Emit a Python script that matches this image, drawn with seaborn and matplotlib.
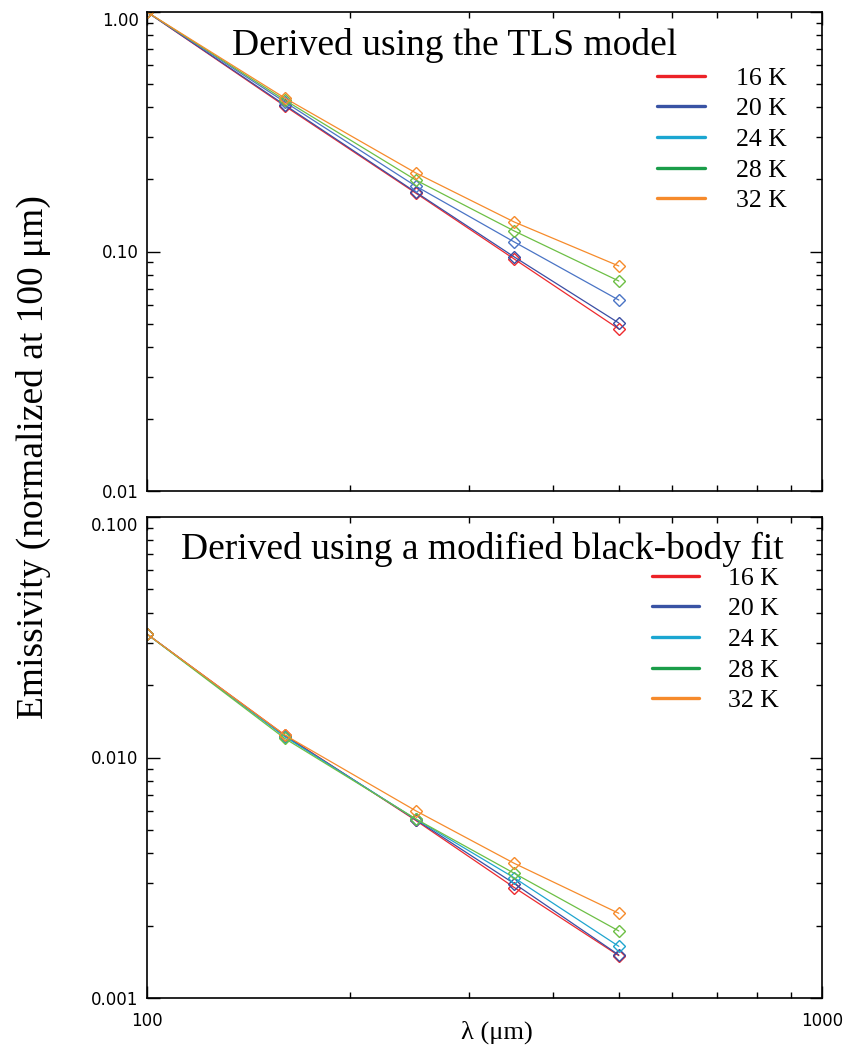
import numpy as np
import pandas as pd
import matplotlib
matplotlib.use("Agg")
import matplotlib.pyplot as plt
from matplotlib.lines import Line2D
from matplotlib.ticker import FixedLocator, FixedFormatter, NullFormatter, LogLocator
import seaborn as sns

# ---------------- data ----------------
wavelengths = [100, 160, 250, 350, 500]
temperatures = ["16 K", "20 K", "24 K", "28 K", "32 K"]

# Top panel: TLS model (normalized at 100 um)
tls_16 = [1.0, 0.405, 0.1755, 0.093, 0.0475]
tls_20 = [1.0, 0.409, 0.177, 0.0949, 0.0503]
tls_24 = [1.0, 0.421, 0.1877, 0.1096, 0.0627]
tls_28 = [1.0, 0.429, 0.199, 0.1218, 0.0753]
tls_32 = [1.0, 0.4375, 0.213, 0.1328, 0.087]

# Bottom panel: modified black-body fit
mbb_16 = [0.0326, 0.0124, 0.00548, 0.00288, 0.00150]
mbb_20 = [0.0326, 0.0123, 0.00552, 0.00299, 0.00151]
mbb_24 = [0.0326, 0.0122, 0.00555, 0.00316, 0.00164]
mbb_28 = [0.0326, 0.0120, 0.00556, 0.00330, 0.00190]
mbb_32 = [0.0326, 0.0124, 0.00601, 0.00363, 0.00225]

top_title = "Derived using the TLS model"
bottom_title = "Derived using a modified black-body fit"
ylabel = "Emissivity (normalized at 100 \u03bcm)"
xlabel = "\u03bb (\u03bcm)"

top_yticks = [0.01, 0.1, 1.0]
top_yticklabels = ["0.01", "0.10", "1.00"]
bot_yticks = [0.001, 0.01, 0.1]
bot_yticklabels = ["0.001", "0.010", "0.100"]
xticks = [100, 1000]
xticklabels = ["100", "1000"]

top_colors = ["#ee2a2e", "#3b4ea3", "#4a74c5", "#6dbf45", "#f68b2b"]
bot_colors = ["#ee2a2e", "#3b4ea3", "#1fa5cf", "#6dbf45", "#f68b2b"]
legend_colors = ["#ec2227", "#3953a4", "#1ba6d1", "#1a9d49", "#f68a2b"]

def make_df(series):
    rows = []
    for t, vals in zip(temperatures, series):
        for w, v in zip(wavelengths, vals):
            rows.append({"wavelength": w, "emissivity": v, "T": t})
    return pd.DataFrame(rows)

df_top = make_df([tls_16, tls_20, tls_24, tls_28, tls_32])
df_bot = make_df([mbb_16, mbb_20, mbb_24, mbb_28, mbb_32])

# ---------------- style ----------------
sns.set_theme(style="ticks")
serif = ["Liberation Serif", "DejaVu Serif"]
plt.rcParams["font.family"] = serif
plt.rcParams["text.color"] = "black"
plt.rcParams["axes.labelcolor"] = "black"
plt.rcParams["xtick.color"] = "black"
plt.rcParams["ytick.color"] = "black"
plt.rcParams["axes.edgecolor"] = "black"

fig = plt.figure(figsize=(8.45, 10.45), dpi=100)
W, H = 845.0, 1045.0
def ax_rect(l, r, t, b):
    return [l / W, 1 - b / H, (r - l) / W, (b - t) / H]

ax_top = fig.add_axes(ax_rect(147, 822, 12, 491))
ax_bot = fig.add_axes(ax_rect(147, 822, 517, 998))

def draw_panel(ax, df, colors):
    for t, c in zip(temperatures, colors):
        sub = df[df["T"] == t]
        sns.lineplot(data=sub, x="wavelength", y="emissivity", ax=ax,
                     color=c, lw=0.9, marker="D", markersize=6,
                     markerfacecolor="none", markeredgecolor=c,
                     markeredgewidth=1.0, legend=False, errorbar=None,
                     sort=False)

draw_panel(ax_top, df_top, top_colors)
draw_panel(ax_bot, df_bot, bot_colors)

tick_family = ["DejaVu Sans"]
tick_size = 12

def style_axes(ax, ylim, yticks, yticklabels, show_x):
    ax.set_xscale("log")
    ax.set_yscale("log")
    ax.set_xlim(100, 1000)
    ax.set_ylim(*ylim)
    ax.xaxis.set_major_locator(FixedLocator(xticks))
    ax.xaxis.set_minor_locator(LogLocator(base=10, subs=np.arange(2, 10)))
    ax.xaxis.set_minor_formatter(NullFormatter())
    ax.yaxis.set_major_locator(FixedLocator(yticks))
    ax.yaxis.set_minor_locator(LogLocator(base=10, subs=np.arange(2, 10)))
    ax.yaxis.set_minor_formatter(NullFormatter())
    ax.yaxis.set_major_formatter(FixedFormatter(yticklabels))
    if show_x:
        ax.xaxis.set_major_formatter(FixedFormatter(xticklabels))
    else:
        ax.xaxis.set_major_formatter(NullFormatter())
    ax.set_xlabel("")
    ax.set_ylabel("")
    ax.tick_params(which="both", direction="in", top=True, right=True,
                   colors="black", labelcolor="black", width=1.0)
    ax.tick_params(which="major", length=9)
    ax.tick_params(which="minor", length=4.5)
    ax.tick_params(axis="y", pad=6)
    ax.tick_params(axis="x", pad=10)
    for lab in ax.get_xticklabels() + ax.get_yticklabels():
        lab.set_fontfamily(tick_family)
        lab.set_fontsize(tick_size)
    for sp in ax.spines.values():
        sp.set_visible(True)
        sp.set_color("black")
        sp.set_linewidth(1.2)
    ax.set_facecolor("white")
    ticks = ax.yaxis.get_major_ticks()
    ticks[-1].label1.set_verticalalignment("top")

style_axes(ax_top, (0.01, 1.0), top_yticks, top_yticklabels, False)
style_axes(ax_bot, (0.001, 0.1), bot_yticks, bot_yticklabels, True)

ax_top.text(0.456, 0.910, top_title, transform=ax_top.transAxes,
            ha="center", va="baseline", fontsize=27, family=serif, color="black")
ax_bot.text(0.497, 0.9127, bottom_title, transform=ax_bot.transAxes,
            ha="center", va="baseline", fontsize=27, family=serif, color="black")

def add_legend(ax, x0, ytop, pad):
    handles = [Line2D([0], [0], color=c, lw=2.4) for c in legend_colors]
    leg = ax.legend(handles, temperatures, loc="upper left",
                    bbox_to_anchor=(x0, ytop), frameon=False,
                    borderpad=0, borderaxespad=0, handlelength=1.85,
                    handletextpad=pad, labelspacing=0.3,
                    prop={"family": serif, "size": 18.5})
    for txt in leg.get_texts():
        txt.set_color("black")
    return leg

add_legend(ax_top, 0.756, 0.886, 1.2)
add_legend(ax_bot, 0.748, 0.897, 1.13)

fig.text(33 / W, 1 - 457 / H, ylabel, rotation=90, ha="center", va="center",
         fontsize=27, family=serif, color="black")
fig.text(497 / W, 1 - 1032 / H, xlabel, ha="center", va="center",
         fontsize=19, family=serif, color="black")

fig.savefig("out.png", dpi=100, facecolor="white")
